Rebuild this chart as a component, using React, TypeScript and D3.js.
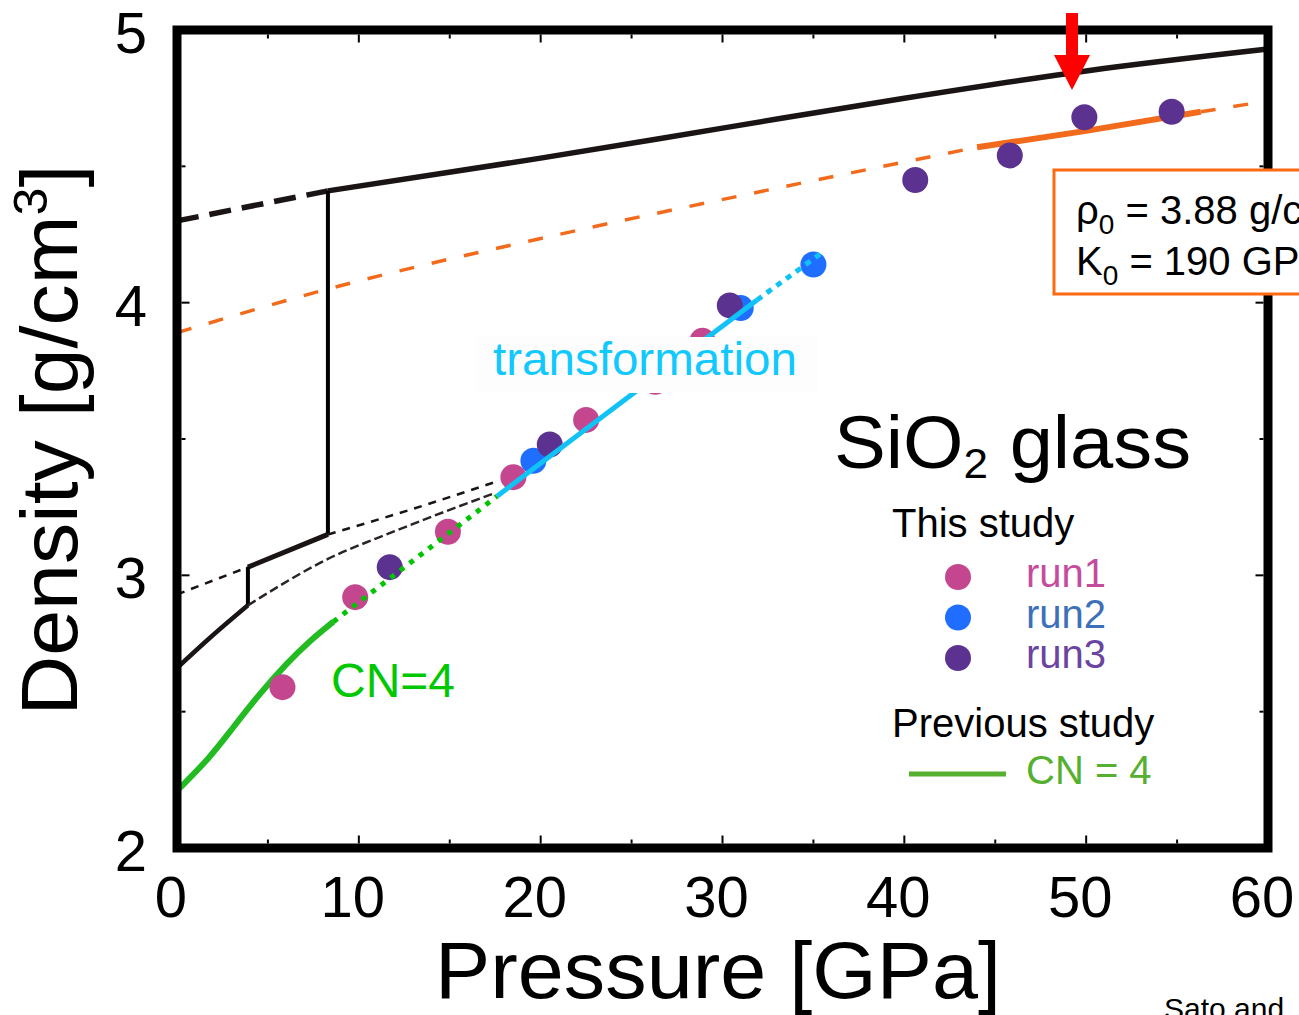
import React from "react";
import * as d3 from "d3";

const W = 1299;
const H = 1015;
const FONT = "'Liberation Sans', Arial, Helvetica, sans-serif";

// ---- data ----
const run1: [number, number][] = [[5.8, 2.59], [9.8, 2.92], [14.9, 3.16], [18.5, 3.36], [22.5, 3.57], [26.3, 3.71], [28.9, 3.86]];
const run2: [number, number][] = [[19.6, 3.42], [31.0, 3.98], [35.0, 4.14]];
const run3: [number, number][] = [[11.7, 3.03], [20.5, 3.48], [30.4, 3.99], [40.6, 4.45], [45.8, 4.54], [49.9, 4.68], [54.7, 4.70]];

const topDashed: [number, number][] = [[0, 4.30], [8.3, 4.41]];
const topSolid: [number, number][] = [[8.3, 4.41], [20, 4.53], [30, 4.64], [40, 4.75], [50, 4.85], [60, 4.93]];
const bigVertical: [number, number][] = [[8.3, 4.41], [8.3, 3.15]];

const curveADash1: [number, number][] = [[0, 2.93], [3.9, 3.03]];
const curveASolid: [number, number][] = [[3.9, 3.03], [8.3, 3.15]];
const curveADash2: [number, number][] = [[8.3, 3.15], [12.8, 3.24], [17.4, 3.34]];
const smallVertical: [number, number][] = [[3.9, 3.03], [3.9, 2.89]];
const curveBThick: [number, number][] = [[0, 2.66], [1.8, 2.77], [3.9, 2.89]];
const curveBThin: [number, number][] = [[3.9, 2.89], [8.3, 3.06], [11.9, 3.16], [17.4, 3.30]];

const greenSolid: [number, number][] = [[0, 2.21], [1.8, 2.33], [3.0, 2.435], [4.6, 2.57], [6.0, 2.675], [7.3, 2.76], [8.6, 2.83]];
const greenDotted: [number, number][] = [[8.6, 2.83], [17.6, 3.29]];
const cyanSolid: [number, number][] = [[17.6, 3.29], [31.9, 4.01]];
const cyanDotted: [number, number][] = [[31.9, 4.01], [35.4, 4.18]];

const orangeDash1: [number, number][] = [[0, 3.89], [8.3, 4.05], [21, 4.25], [33, 4.42], [44, 4.57]];
const orangeSolid: [number, number][] = [[44, 4.57], [50, 4.63], [56.3, 4.70]];
const orangeDash2: [number, number][] = [[56.3, 4.70], [60, 4.74]];

const xTicks = [0, 10, 20, 30, 40, 50, 60];
const xMinor = [5, 15, 25, 35, 45, 55];
const yTicks = [2, 3, 4, 5];
const yMinor = [2.5, 3.5, 4.5];

const legendRuns = ["run1", "run2", "run3"];
const runColors = ["#C4468F", "#1F6EFF", "#5B3290"];
const runTextColors = ["#C44C9C", "#3C70B8", "#6A44A0"];

export default function App() {
  const x = d3.scaleLinear().domain([0, 60]).range([177, 1268]);
  const y = d3.scaleLinear().domain([2, 5]).range([848, 30]);
  const line = d3.line<[number, number]>().x((d) => x(d[0])).y((d) => y(d[1])).curve(d3.curveMonotoneX);
  const smooth = d3.line<[number, number]>().x((d) => x(d[0])).y((d) => y(d[1])).curve(d3.curveBasis);
  const straight = d3.line<[number, number]>().x((d) => x(d[0])).y((d) => y(d[1]));

  const L = x.range()[0], R = x.range()[1], T = y.range()[1], B = y.range()[0];
  const inL = L + 4.5, inR = R - 4.5, inT = T + 4.5, inB = B - 4.5;

  const runs = [run1, run2, run3];

  return (
    <svg width={W} height={H} style={{ position: "absolute", left: 0, top: 0, background: "#fff" }} fontFamily={FONT}>
      <rect x={0} y={0} width={W} height={H} fill="#fff" />

      {/* orange EOS curve */}
      <path d={line(orangeDash1)!} fill="none" stroke="#F26B1D" strokeWidth={3.5} strokeDasharray="15 18" />
      <path d={line(orangeSolid)!} fill="none" stroke="#F26B1D" strokeWidth={6} />
      <path d={line(orangeDash2)!} fill="none" stroke="#F26B1D" strokeWidth={3.5} strokeDasharray="15 18" />

      {/* black curves */}
      <path d={line(topDashed)!} fill="none" stroke="#1a1414" strokeWidth={5.5} strokeDasharray="22 11" />
      <path d={line(topSolid)!} fill="none" stroke="#1a1414" strokeWidth={5.5} />
      <path d={straight(bigVertical)!} fill="none" stroke="#000" strokeWidth={4} />
      <path d={line(curveADash1)!} fill="none" stroke="#1a1414" strokeWidth={2.5} strokeDasharray="8 7" />
      <path d={line(curveASolid)!} fill="none" stroke="#1a1414" strokeWidth={5} />
      <path d={line(curveADash2)!} fill="none" stroke="#1a1414" strokeWidth={2.5} strokeDasharray="8 7" />
      <path d={straight(smallVertical)!} fill="none" stroke="#000" strokeWidth={4} />
      <path d={line(curveBThick)!} fill="none" stroke="#1a1414" strokeWidth={4.5} />
      <path d={line(curveBThin)!} fill="none" stroke="#2a2424" strokeWidth={2.5} strokeDasharray="9 4" />

      {/* green solid */}
      <path d={smooth(greenSolid)!} fill="none" stroke="#22BB22" strokeWidth={6} />

      {/* data points */}
      {runs.map((r, i) =>
        r.map((d, j) => <circle key={`p${i}-${j}`} cx={x(d[0])} cy={y(d[1])} r={13} fill={runColors[i]} />)
      )}

      {/* green dotted & cyan */}
      <path d={line(greenDotted)!} fill="none" stroke="#00C400" strokeWidth={5} strokeDasharray="5 7" />
      <path d={line(cyanSolid)!} fill="none" stroke="#11C3F5" strokeWidth={5} />
      <path d={line(cyanDotted)!} fill="none" stroke="#11C3F5" strokeWidth={5} strokeDasharray="6 6" />

      {/* transformation label */}
      <rect x={476} y={337} width={342} height={56} fill="#fdfdfd" />
      <g transform="translate(493,375) scale(1.034,1)">
        <text x={0} y={0} fontSize={46} fill="#11C8FF">transformation</text>
      </g>

      {/* CN=4 label */}
      <text x={331} y={697} fontSize={48} fill="#00C800">CN=4</text>

      {/* frame */}
      <rect x={L} y={T} width={R - L} height={B - T} fill="none" stroke="#000" strokeWidth={9} />

      {/* ticks */}
      {xTicks.map((t) => (
        <g key={`xt${t}`}>
          <line x1={x(t)} x2={x(t)} y1={inB} y2={inB - 8} stroke="#000" strokeWidth={2} />
          <line x1={x(t)} x2={x(t)} y1={inT} y2={inT + 8} stroke="#000" strokeWidth={2} />
        </g>
      ))}
      {xMinor.map((t) => (
        <g key={`xm${t}`}>
          <line x1={x(t)} x2={x(t)} y1={inB} y2={inB - 4} stroke="#000" strokeWidth={2} />
          <line x1={x(t)} x2={x(t)} y1={inT} y2={inT + 4} stroke="#000" strokeWidth={2} />
        </g>
      ))}
      {yTicks.map((t) => (
        <g key={`yt${t}`}>
          <line x1={inL} x2={inL + 8} y1={y(t)} y2={y(t)} stroke="#000" strokeWidth={2} />
          <line x1={inR} x2={inR - 8} y1={y(t)} y2={y(t)} stroke="#000" strokeWidth={2} />
        </g>
      ))}
      {yMinor.map((t) => (
        <g key={`ym${t}`}>
          <line x1={inL} x2={inL + 4} y1={y(t)} y2={y(t)} stroke="#000" strokeWidth={2} />
          <line x1={inR} x2={inR - 4} y1={y(t)} y2={y(t)} stroke="#000" strokeWidth={2} />
        </g>
      ))}

      {/* tick labels */}
      {xTicks.map((t) => (
        <text key={`xl${t}`} x={x(t) - 6} y={917} fontSize={58} textAnchor="middle" fill="#000">{t}</text>
      ))}
      {yTicks.map((t) => (
        <text key={`yl${t}`} x={147} y={y(t) + 23} fontSize={58} textAnchor="end" fill="#000">{t}</text>
      ))}

      {/* axis titles */}
      <g transform="translate(718,998) scale(1.035,1)">
        <text x={0} y={0} fontSize={80} textAnchor="middle" fill="#000">Pressure [GPa]</text>
      </g>
      <g transform="translate(77,440) rotate(-90) scale(1.045,1)">
        <text x={0} y={0} fontSize={79} textAnchor="middle" fill="#000">
          Density [g/cm<tspan fontSize={48} dy={-30}>3</tspan><tspan dy={30}>]</tspan>
        </text>
      </g>

      {/* red arrow */}
      <rect x={1066} y={13} width={12} height={43} fill="#FF0000" />
      <polygon points="1054,55 1090,55 1072,90" fill="#FF0000" />

      {/* parameter box */}
      <rect x={1054} y={170} width={260} height={124} fill="#fff" stroke="#FF6A10" strokeWidth={3} />
      <text x={1076} y={224} fontSize={40} fill="#000">
        ρ<tspan fontSize={28} dy={10}>0</tspan><tspan dy={-10}> = 3.88 g/cm</tspan><tspan fontSize={26} dy={-16}>3</tspan>
      </text>
      <text x={1076} y={275} fontSize={40} fill="#000">
        K<tspan fontSize={28} dy={10}>0</tspan><tspan dy={-10}> = 190 GPa</tspan>
      </text>

      {/* SiO2 glass */}
      <g transform="translate(834,468) scale(1.05,1)">
        <text x={0} y={0} fontSize={74} fill="#000">
          SiO<tspan fontSize={42} dy={10}>2</tspan><tspan dy={-10}> glass</tspan>
        </text>
      </g>

      {/* legend */}
      <text x={892} y={537} fontSize={40} fill="#000">This study</text>
      {legendRuns.map((name, i) => (
        <g key={name}>
          <circle cx={958} cy={577 + i * 40.5} r={13} fill={runColors[i]} />
          <text x={1026} y={587 + i * 40.5} fontSize={40} fill={runTextColors[i]}>{name}</text>
        </g>
      ))}
      <text x={892} y={737} fontSize={40} fill="#000">Previous study</text>
      <line x1={909} x2={1006} y1={774} y2={774} stroke="#55B030" strokeWidth={5} />
      <text x={1026} y={784} fontSize={40} fill="#55B030">CN = 4</text>

      {/* citation */}
      <text x={1164} y={1019} fontSize={30} fill="#000">Sato and</text>
    </svg>
  );
}
